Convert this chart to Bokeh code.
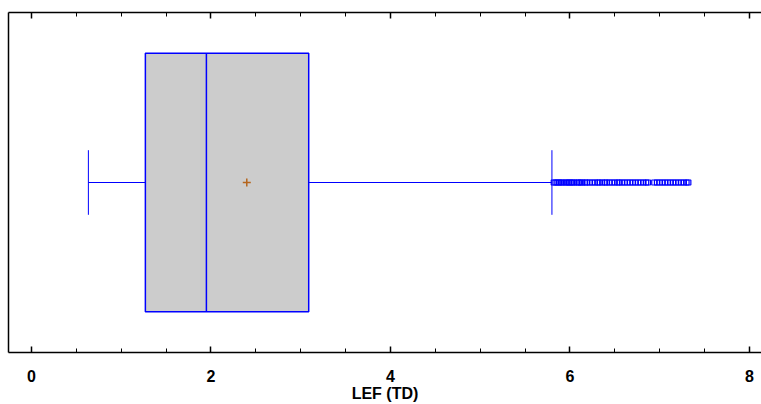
from bokeh.plotting import figure
from bokeh.models import Range1d, LinearAxis, FixedTicker, CustomJSTickFormatter
from bokeh.embed import file_html
from bokeh.resources import INLINE

# Box-plot summary values (LEF (TD))
q1 = [1.27]
median = [1.95]
q3 = [3.09]
mean = [2.40]
whisker_low = [0.635]
whisker_high = [5.80]
outliers = [5.82, 5.84, 5.86, 5.88, 5.90, 5.92, 5.95, 5.97, 5.99, 6.01, 6.03, 6.05,
            6.08, 6.10, 6.12, 6.14, 6.17, 6.19, 6.22, 6.25, 6.28, 6.31, 6.33, 6.36,
            6.39, 6.41, 6.44, 6.47, 6.50, 6.53, 6.55, 6.58, 6.61, 6.64, 6.67, 6.70,
            6.73, 6.76, 6.79, 6.82, 6.85, 6.87, 6.94, 6.97, 7.00, 7.03, 7.06, 7.09,
            7.12, 7.15, 7.18, 7.21, 7.24, 7.27, 7.30, 7.32]
major_ticks = [0, 2, 4, 6, 8]
minor_ticks = [0.5, 1, 1.5, 2.5, 3, 3.5, 4.5, 5, 5.5, 6.5, 7, 7.5]

box_half = 0.76
cap_half = 0.19

p = figure(width=761, height=404, output_backend="svg", toolbar_location=None,
           x_range=Range1d(-0.255, 8.135), y_range=Range1d(-1, 1),
           min_border_left=8, min_border_right=0, min_border_top=12,
           min_border_bottom=0)
p.background_fill_color = "white"
p.border_fill_color = "white"
p.outline_line_color = None
p.grid.visible = False
p.yaxis.visible = False

ax = p.xaxis[0]
ax.ticker = FixedTicker(ticks=major_ticks, minor_ticks=minor_ticks)
ax.major_tick_in = 6
ax.major_tick_out = 0
ax.minor_tick_in = 4
ax.minor_tick_out = 0
ax.axis_line_color = "black"
ax.axis_line_width = 1.5
ax.major_tick_line_width = 1.5
ax.major_label_text_font = "Liberation Sans"
ax.major_label_text_font_style = "bold"
ax.major_label_text_font_size = "16px"
ax.major_label_text_color = "black"
ax.major_label_standoff = 17
ax.axis_label = "LEF (TD)"
ax.axis_label_text_font = "Liberation Sans"
ax.axis_label_text_font_style = "bold"
ax.axis_label_text_font_size = "16px"
ax.axis_label_text_color = "black"
ax.axis_label_standoff = 0

top = LinearAxis(ticker=FixedTicker(ticks=major_ticks, minor_ticks=minor_ticks),
                 formatter=CustomJSTickFormatter(code="return ''"),
                 major_tick_in=6, major_tick_out=0,
                 minor_tick_in=4, minor_tick_out=0, axis_line_color="black",
                 axis_line_width=1.5, major_tick_line_width=1.5,
                 major_label_standoff=0)
p.add_layout(top, "above")

left = LinearAxis(ticker=FixedTicker(ticks=[]),
                  formatter=CustomJSTickFormatter(code="return ''"),
                  major_tick_in=0, major_tick_out=0, minor_tick_in=0, minor_tick_out=0,
                  axis_line_color="black", axis_line_width=1.5,
                  major_label_standoff=0)
p.add_layout(left, "left")

# whiskers
p.segment(x0=whisker_low, y0=[0], x1=q1, y1=[0], line_color="#0000ff", line_width=1)
p.segment(x0=q3, y0=[0], x1=whisker_high, y1=[0], line_color="#0000ff", line_width=1)
p.segment(x0=whisker_low, y0=[-cap_half], x1=whisker_low, y1=[cap_half],
          line_color="#0000ff", line_width=1)
p.segment(x0=whisker_high, y0=[-cap_half], x1=whisker_high, y1=[cap_half],
          line_color="#0000ff", line_width=1)

# box
p.quad(left=q1, right=q3, bottom=[-box_half], top=[box_half],
       fill_color="#cccccc", line_color="#0000ff", line_width=1.5)
p.segment(x0=median, y0=[-box_half], x1=median, y1=[box_half],
          line_color="#0000ff", line_width=1.5)

# mean
p.scatter(x=mean, y=[0], marker="cross", size=8, line_color="#b5651d", line_width=1.5)

# outliers
p.scatter(x=outliers, y=[0] * len(outliers), marker="square", size=5,
          line_color="#0000ff", fill_color=None, line_width=1.2)

open("out.html", "w").write(file_html(p, INLINE))
